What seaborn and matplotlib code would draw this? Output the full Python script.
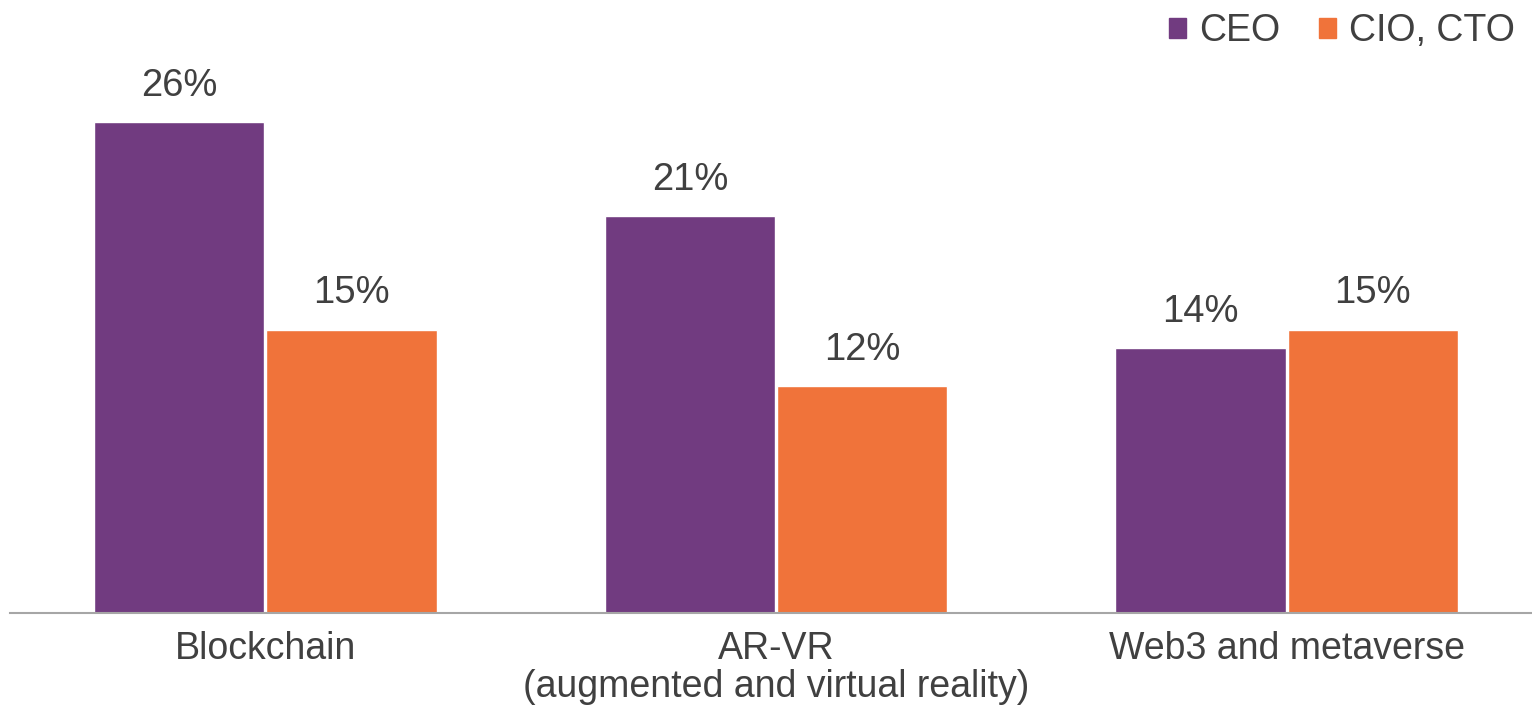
import matplotlib
matplotlib.use("Agg")
import matplotlib.pyplot as plt
import pandas as pd
import seaborn as sns

# Share of respondents by role
categories = ["Blockchain", "AR-VR\n(augmented and virtual reality)", "Web3 and metaverse"]
roles = ["CEO", "CIO, CTO"]
ceo_values = [26, 21, 14]
cio_cto_values = [15, 12, 15]
palette = {"CEO": "#713B80", "CIO, CTO": "#F0733A"}

df = pd.DataFrame({
    "category": categories * 2,
    "role": [roles[0]] * len(categories) + [roles[1]] * len(categories),
    "value": ceo_values + cio_cto_values,
})

sns.set_theme(style="white")
plt.rcParams["font.family"] = ["Liberation Sans", "DejaVu Sans"]
text_color = "#404040"

fig = plt.figure(figsize=(15.32, 7.09), dpi=100)
ax = fig.add_axes([10 / 1532, 96 / 709, 1522 / 1532, 567 / 709])

sns.barplot(data=df, x="category", y="value", hue="role", order=categories,
            hue_order=roles, palette=palette, width=0.675, gap=0.012,
            saturation=1, ax=ax, legend=False)

ax.set_ylim(0, 30)
ax.set_xlim(-0.5, 2.5 - 10 / 511)

for container in ax.containers:
    ax.bar_label(container, fmt="%d%%", padding=13, fontsize=27.5, color=text_color)

ax.set_xlabel("")
ax.set_ylabel("")
ax.set_yticks([])
ax.tick_params(axis="x", length=0, pad=13, labelsize=27, labelcolor=text_color)
for lbl in ax.get_xticklabels():
    lbl.set_linespacing(1.08)
    lbl.set_verticalalignment("top")

for side in ["top", "right", "left"]:
    ax.spines[side].set_visible(False)
ax.spines["bottom"].set_color("#A6A6A6")
ax.spines["bottom"].set_linewidth(1.5)

handles = [plt.Rectangle((0, 0), 1, 1, color=palette[r]) for r in roles]
fig.legend(handles, roles, loc="upper right", bbox_to_anchor=(1.011, 1.029),
           ncol=2, frameon=False, fontsize=27, labelcolor=text_color,
           handlelength=0.45, handleheight=0.45, handletextpad=0.35,
           columnspacing=1.05)

fig.savefig("out.png", dpi=100)
